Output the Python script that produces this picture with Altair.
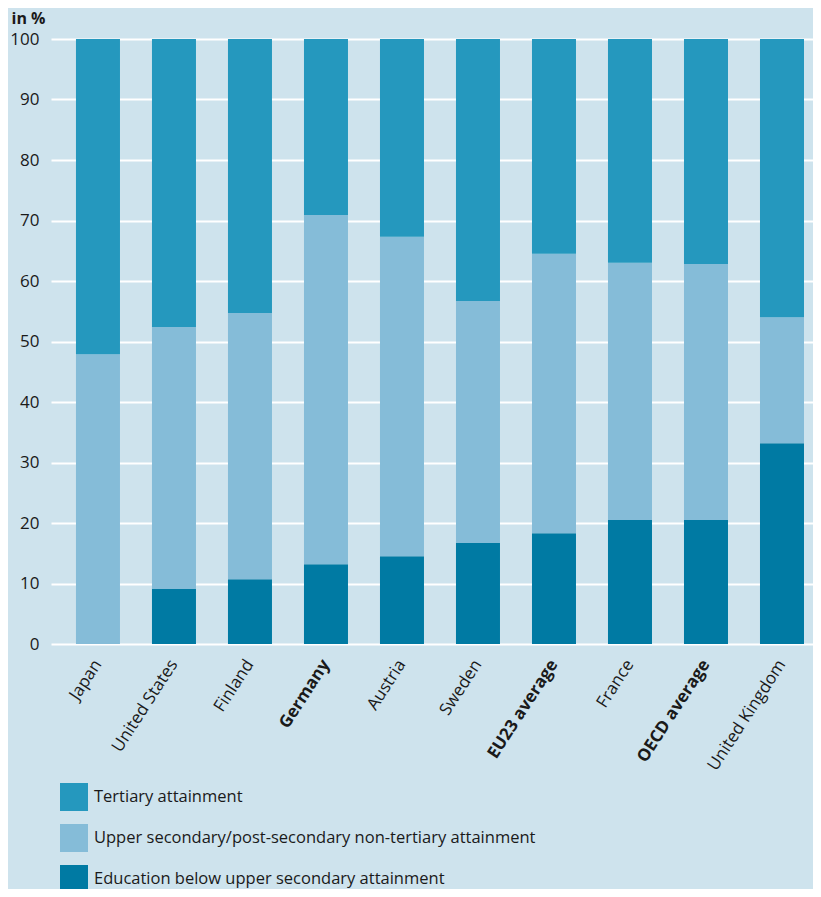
import altair as alt
import pandas as pd

countries = ["Japan", "United States", "Finland", "Germany", "Austria", "Sweden",
             "EU23 average", "France", "OECD average", "United Kingdom"]
below = [0.0, 9.1, 10.7, 13.2, 14.5, 16.7, 18.3, 20.5, 20.5, 33.2]
upper = [47.9, 43.3, 44.0, 57.7, 52.8, 40.0, 46.2, 42.5, 42.3, 20.8]
tertiary = [52.1, 47.6, 45.3, 29.1, 32.7, 43.3, 35.5, 37.0, 37.2, 46.0]
series = ["Tertiary attainment",
          "Upper secondary/post-secondary non-tertiary attainment",
          "Education below upper secondary attainment"]
colors = ["#2598be", "#85bcd8", "#007aa3"]
bold_labels = ["Germany", "EU23 average", "OECD average"]
y_ticks = [0, 10, 20, 30, 40, 50, 60, 70, 80, 90, 100]

rows = []
for i, c in enumerate(countries):
    rows.append({"country": c, "series": series[2], "value": below[i], "ord": 0})
    rows.append({"country": c, "series": series[1], "value": upper[i], "ord": 1})
    rows.append({"country": c, "series": series[0], "value": tertiary[i], "ord": 2})
df = pd.DataFrame(rows)

FONT = "Open Sans"
TXT = "#1a1a1a"

bold_expr = "indexof(" + str(bold_labels) + ", datum.value) >= 0 ? 'bold' : 'normal'"

chart = alt.Chart(df).mark_bar().encode(
    x=alt.X("country:N", sort=countries,
            scale=alt.Scale(paddingInner=0.421, paddingOuter=0.2235, align=0.735),
            axis=alt.Axis(title=None, labelAngle=-57, labelFontSize=17, labelFont=FONT,
                          labelColor=TXT, ticks=False, domain=False, grid=False,
                          labelPadding=17,
                          labelFontWeight=alt.expr(bold_expr))),
    y=alt.Y("value:Q", stack="zero",
            scale=alt.Scale(domain=[0, 100], nice=False),
            axis=alt.Axis(title="in %", titleAngle=0, titleAlign="left", titleX=-40, titleY=-16,
                          titleBaseline="alphabetic", titleFontSize=16, titleFont=FONT,
                          titleFontWeight="bold", titleColor=TXT,
                          values=y_ticks, labelFontSize=17, labelFont=FONT, labelColor=TXT,
                          labelPadding=12, ticks=False, domain=False,
                          grid=True, gridColor="white", gridWidth=2.2, gridOpacity=1)),
    color=alt.Color("series:N",
                    scale=alt.Scale(domain=series, range=colors),
                    legend=alt.Legend(title=None, orient="none", direction="vertical",
                                      legendX=9, legendY=744, symbolType="square",
                                      symbolSize=784, symbolStrokeWidth=0, symbolOpacity=1,
                                      labelFontSize=16.5, labelFont=FONT, labelColor=TXT,
                                      labelOffset=6, rowPadding=13, padding=0,
                                      labelLimit=600)),
    order=alt.Order("ord:Q", sort="ascending"),
).properties(
    width=762, height=605,
    padding={"left": 43, "top": 31, "right": 0, "bottom": 245},
    autosize=alt.AutoSizeParams(type="none"),
    background="#cee3ed",
).configure_view(stroke=None)

chart.save("out.html", embed_options={"renderer": "svg", "actions": False})
